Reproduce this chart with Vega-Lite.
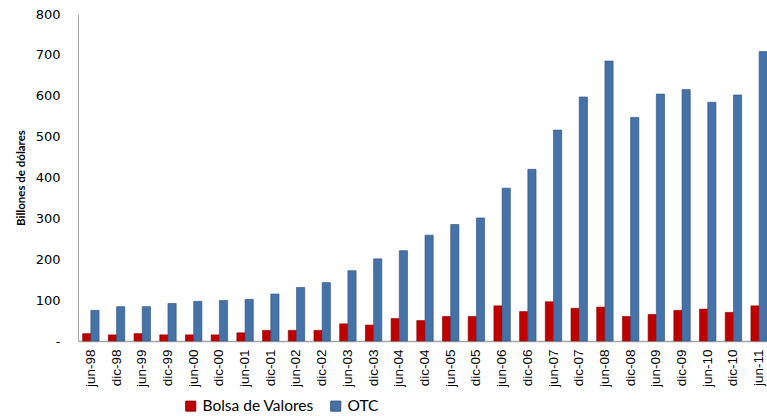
{
  "$schema": "https://vega.github.io/schema/vega-lite/v6.json",
  "width": 689,
  "height": 327,
  "autosize": "none",
  "padding": {"left": 78, "top": 14, "right": 0, "bottom": 75},
  "background": "white",
  "config": {"view": {"stroke": null}},
  "data": {
    "values": [
      {"p": "jun-98", "s": "Bolsa de Valores", "v": 18}, {"p": "jun-98", "s": "OTC", "v": 75},
      {"p": "dic-98", "s": "Bolsa de Valores", "v": 15}, {"p": "dic-98", "s": "OTC", "v": 84},
      {"p": "jun-99", "s": "Bolsa de Valores", "v": 18}, {"p": "jun-99", "s": "OTC", "v": 84},
      {"p": "dic-99", "s": "Bolsa de Valores", "v": 15}, {"p": "dic-99", "s": "OTC", "v": 92},
      {"p": "jun-00", "s": "Bolsa de Valores", "v": 15}, {"p": "jun-00", "s": "OTC", "v": 97},
      {"p": "dic-00", "s": "Bolsa de Valores", "v": 15}, {"p": "dic-00", "s": "OTC", "v": 99},
      {"p": "jun-01", "s": "Bolsa de Valores", "v": 20}, {"p": "jun-01", "s": "OTC", "v": 102},
      {"p": "dic-01", "s": "Bolsa de Valores", "v": 26}, {"p": "dic-01", "s": "OTC", "v": 115},
      {"p": "jun-02", "s": "Bolsa de Valores", "v": 26}, {"p": "jun-02", "s": "OTC", "v": 131},
      {"p": "dic-02", "s": "Bolsa de Valores", "v": 26}, {"p": "dic-02", "s": "OTC", "v": 143},
      {"p": "jun-03", "s": "Bolsa de Valores", "v": 42}, {"p": "jun-03", "s": "OTC", "v": 172},
      {"p": "dic-03", "s": "Bolsa de Valores", "v": 39}, {"p": "dic-03", "s": "OTC", "v": 201},
      {"p": "jun-04", "s": "Bolsa de Valores", "v": 55}, {"p": "jun-04", "s": "OTC", "v": 221},
      {"p": "dic-04", "s": "Bolsa de Valores", "v": 50}, {"p": "dic-04", "s": "OTC", "v": 259},
      {"p": "jun-05", "s": "Bolsa de Valores", "v": 60}, {"p": "jun-05", "s": "OTC", "v": 285},
      {"p": "dic-05", "s": "Bolsa de Valores", "v": 60}, {"p": "dic-05", "s": "OTC", "v": 301},
      {"p": "jun-06", "s": "Bolsa de Valores", "v": 86}, {"p": "jun-06", "s": "OTC", "v": 374},
      {"p": "dic-06", "s": "Bolsa de Valores", "v": 72}, {"p": "dic-06", "s": "OTC", "v": 420},
      {"p": "jun-07", "s": "Bolsa de Valores", "v": 96}, {"p": "jun-07", "s": "OTC", "v": 516},
      {"p": "dic-07", "s": "Bolsa de Valores", "v": 80}, {"p": "dic-07", "s": "OTC", "v": 597},
      {"p": "jun-08", "s": "Bolsa de Valores", "v": 83}, {"p": "jun-08", "s": "OTC", "v": 685},
      {"p": "dic-08", "s": "Bolsa de Valores", "v": 60}, {"p": "dic-08", "s": "OTC", "v": 547},
      {"p": "jun-09", "s": "Bolsa de Valores", "v": 65}, {"p": "jun-09", "s": "OTC", "v": 604},
      {"p": "dic-09", "s": "Bolsa de Valores", "v": 75}, {"p": "dic-09", "s": "OTC", "v": 615},
      {"p": "jun-10", "s": "Bolsa de Valores", "v": 78}, {"p": "jun-10", "s": "OTC", "v": 584},
      {"p": "dic-10", "s": "Bolsa de Valores", "v": 70}, {"p": "dic-10", "s": "OTC", "v": 602},
      {"p": "jun-11", "s": "Bolsa de Valores", "v": 86}, {"p": "jun-11", "s": "OTC", "v": 708}
    ]
  },
  "mark": {"type": "bar", "strokeWidth": 1, "strokeOpacity": 0.6},
  "encoding": {
    "x": {
      "field": "p", "type": "nominal", "sort": null,
      "scale": {"paddingInner": 0.36, "paddingOuter": 0.18, "range": [0, 694]},
      "axis": {
        "title": null, "labelAngle": -90, "labelFont": "Liberation Sans", "labelFontSize": 13.5,
        "labelColor": "#000", "labelPadding": 8, "ticks": false, "domainColor": "#a6a6a6",
        "domainWidth": 1.5, "labelAlign": "right", "labelBaseline": "middle"
      }
    },
    "xOffset": {"field": "s", "type": "nominal", "sort": ["Bolsa de Valores", "OTC"]},
    "y": {
      "field": "v", "type": "quantitative",
      "scale": {"domain": [0, 800], "nice": false},
      "axis": {
        "title": "Billones de dólares", "titleFont": "Lato", "titleFontSize": 11.5,
        "titleFontWeight": "bold", "titleColor": "#000", "titlePadding": 9,
        "values": [0, 100, 200, 300, 400, 500, 600, 700, 800],
        "labelExpr": "datum.value == 0 ? '-' : datum.label",
        "labelFont": "DejaVu Sans", "labelFontSize": 13, "labelColor": "#000",
        "labelPadding": 18, "ticks": false, "grid": false, "domainColor": "#a6a6a6"
      }
    },
    "color": {
      "field": "s", "type": "nominal",
      "scale": {"domain": ["Bolsa de Valores", "OTC"], "range": ["#C00000", "#4572A7"]},
      "legend": {
        "title": null, "orient": "none", "direction": "horizontal",
        "legendX": 105, "legendY": 384, "symbolType": "square", "symbolSize": 100,
        "symbolStrokeColor": "#385D8A", "symbolStrokeWidth": 1,
        "labelFont": "Lato", "labelFontSize": 15.5, "labelColor": "#000",
        "columnPadding": 14, "labelOffset": 4
      }
    },
    "stroke": {
      "field": "s", "type": "nominal",
      "scale": {"domain": ["Bolsa de Valores", "OTC"], "range": ["#8B0000", "#2F4F7F"]},
      "legend": null
    }
  }
}
